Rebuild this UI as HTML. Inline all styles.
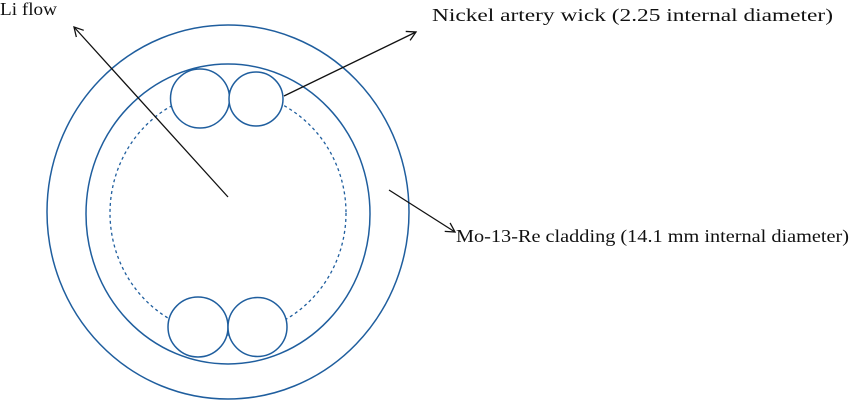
<!DOCTYPE html>
<html><head><meta charset="utf-8"><style>
html,body{margin:0;padding:0;background:#fff;}
svg{display:block;}
text{font-family:"Liberation Serif",serif;font-size:18px;fill:#111;}
</style></head><body>
<svg width="850" height="402" viewBox="0 0 850 402">
<defs><marker id="a" markerWidth="12" markerHeight="12" refX="10" refY="6" orient="auto" markerUnits="userSpaceOnUse"><path d="M1,1 L10,6 L1,11" fill="none" stroke="#111" stroke-width="1.3"/></marker></defs>
<g fill="none" stroke="#1f5e9e" stroke-width="1.5">
<ellipse cx="228" cy="212" rx="181" ry="187"/>
<ellipse cx="228" cy="214" rx="142" ry="150"/>
<ellipse cx="228" cy="213" rx="118" ry="122" stroke-dasharray="3,3" stroke-width="1.3"/>
</g>
<g fill="#fff" stroke="#1f5e9e" stroke-width="1.5">
<circle cx="200" cy="98.5" r="29.5"/>
<circle cx="256" cy="99" r="27"/>
<circle cx="198" cy="327" r="30"/>
<circle cx="257.5" cy="327" r="29.5"/>
</g>
<g stroke="#111" stroke-width="1.3" fill="none">
<line x1="228" y1="197" x2="74" y2="27" marker-end="url(#a)"/>
<line x1="284" y1="96" x2="416" y2="32" marker-end="url(#a)"/>
<line x1="389" y1="190" x2="455" y2="232" marker-end="url(#a)"/>
</g>
<text x="0" y="15" textLength="57" lengthAdjust="spacingAndGlyphs">Li flow</text>
<text x="432" y="21" textLength="401" lengthAdjust="spacingAndGlyphs">Nickel artery wick (2.25 internal diameter)</text>
<text x="456" y="242" textLength="393" lengthAdjust="spacingAndGlyphs">Mo-13-Re cladding (14.1 mm internal diameter)</text>
</svg>
</body></html>
